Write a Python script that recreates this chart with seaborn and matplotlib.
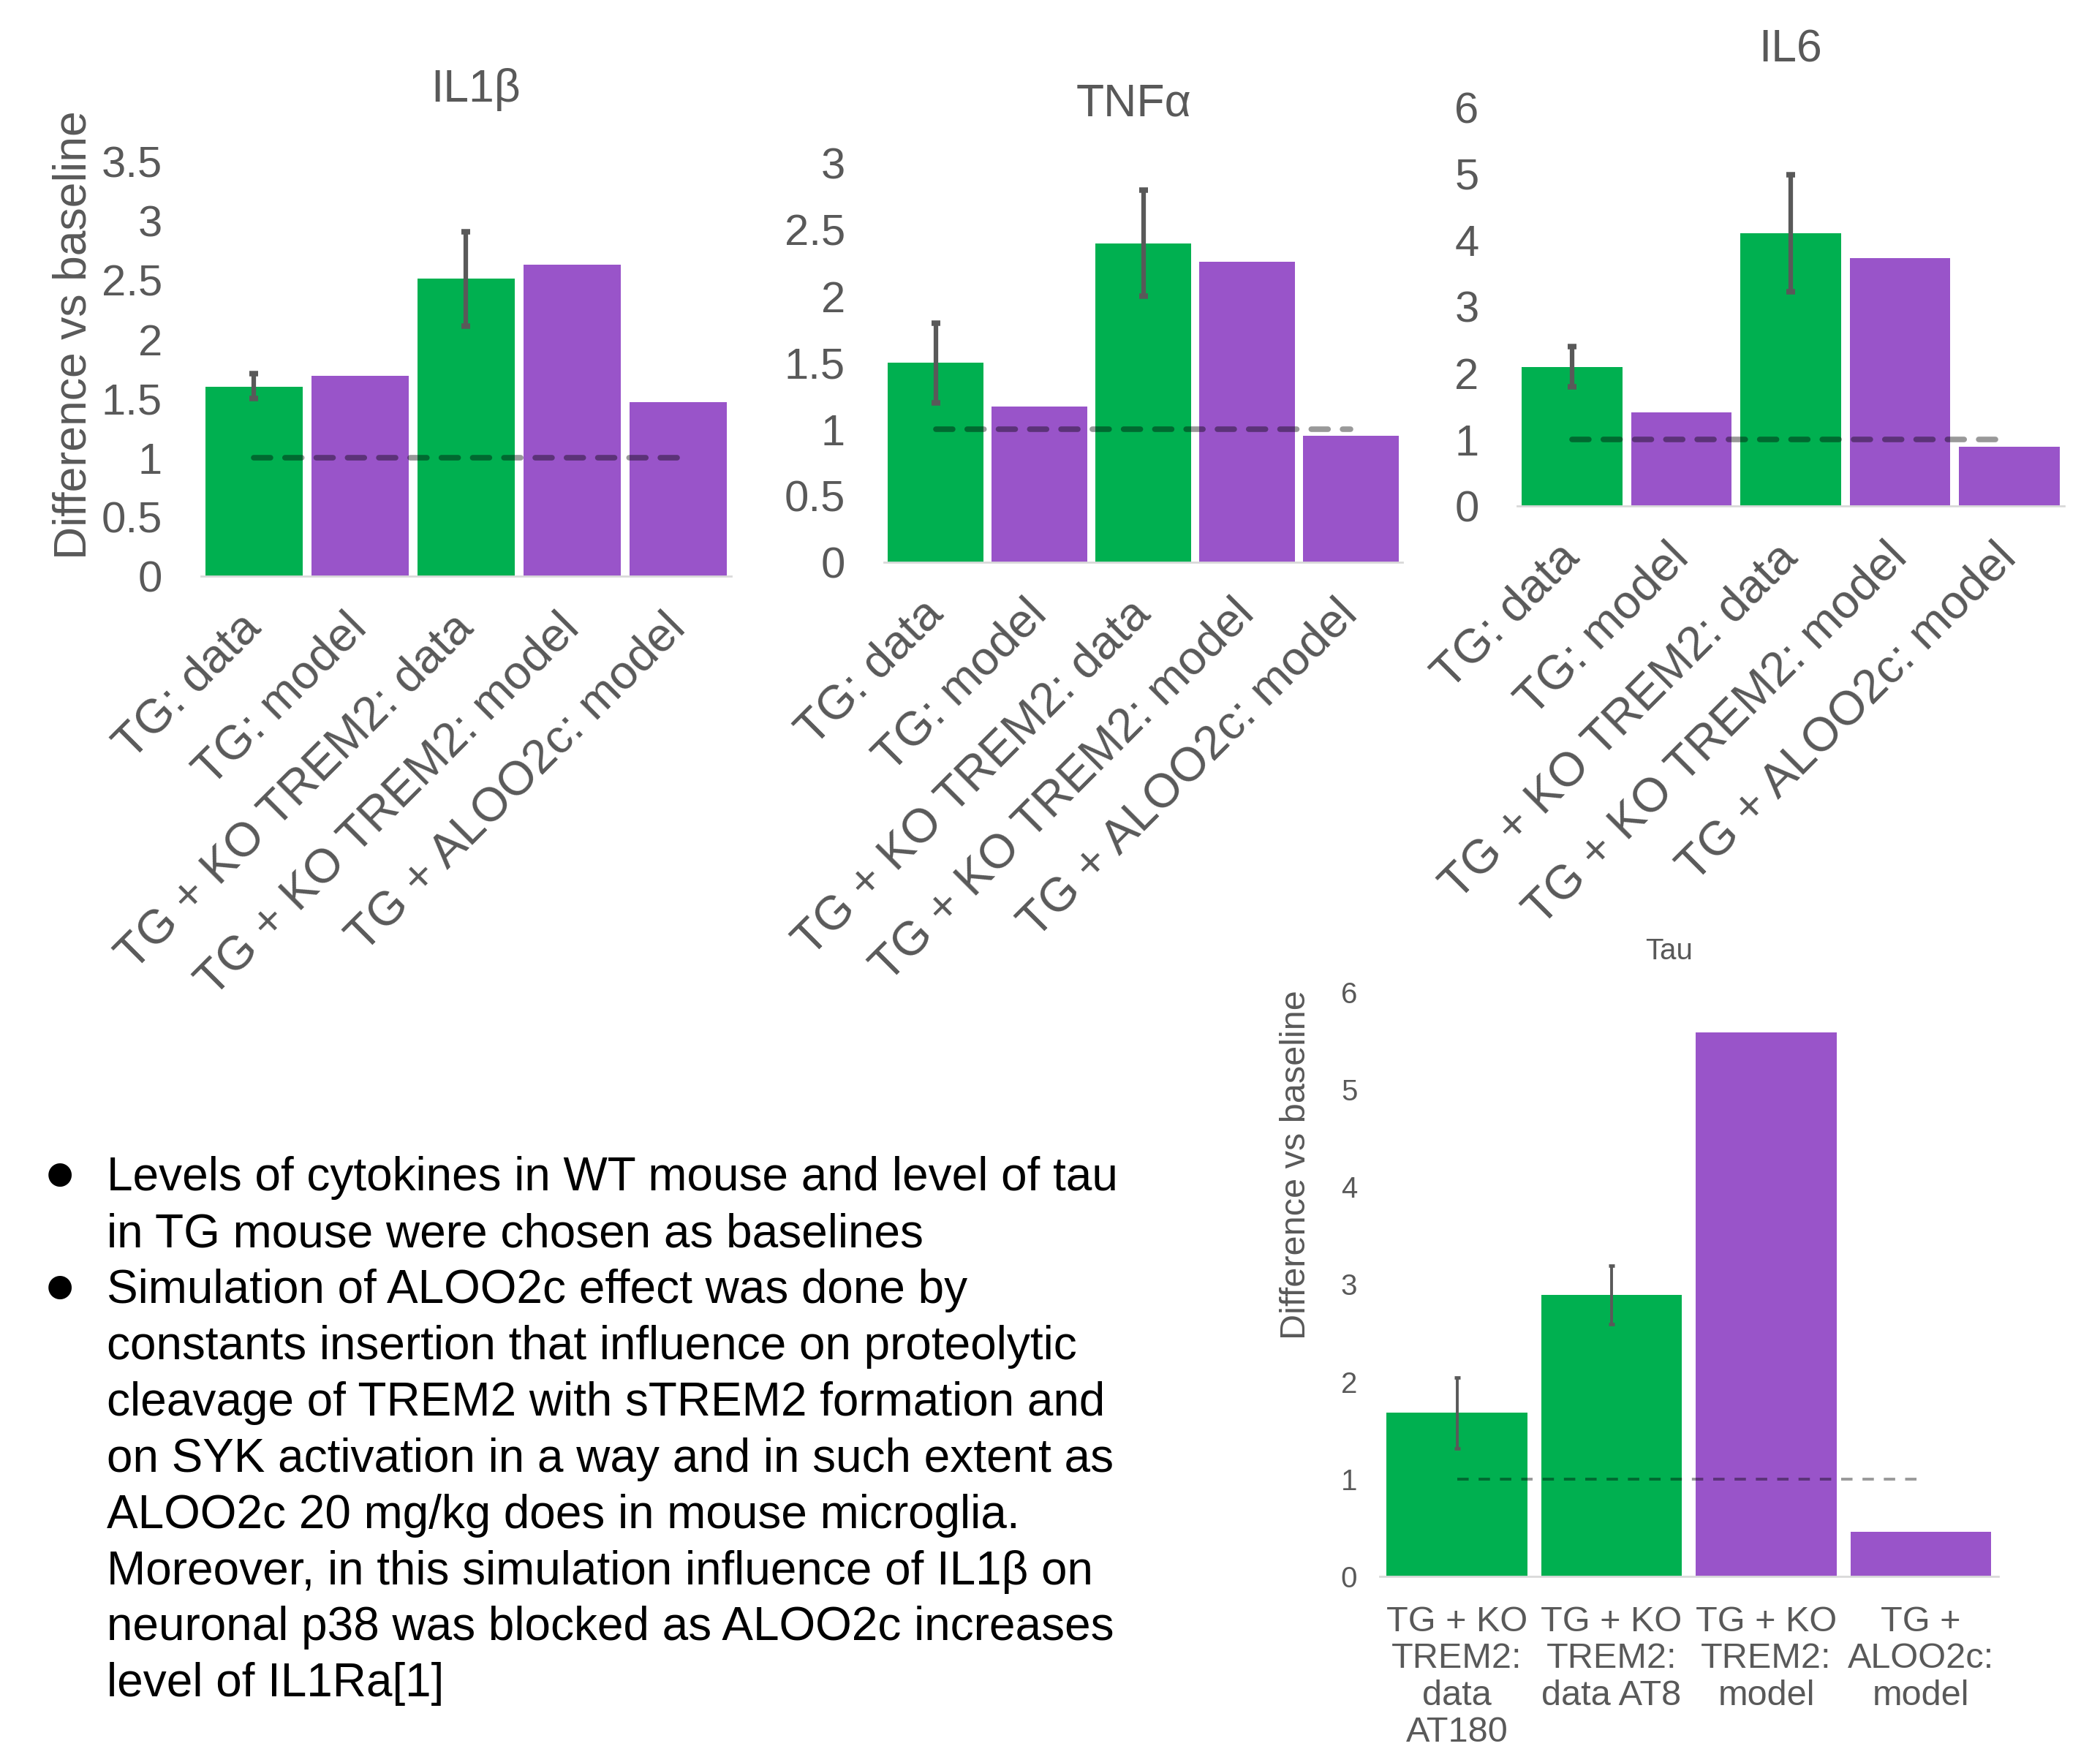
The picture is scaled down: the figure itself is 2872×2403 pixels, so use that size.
import numpy as np
import pandas as pd
import matplotlib
matplotlib.use("Agg")
import matplotlib.pyplot as plt
import seaborn as sns

# ---- data -------------------------------------------------------------
cytokine_groups = ["TG: data", "TG: model", "TG + KO TREM2: data",
                   "TG + KO TREM2: model", "TG + ALOO2c: model"]
cytokine_kinds = ["data", "model", "data", "model", "model"]

il1b_values = [1.60, 1.69, 2.51, 2.63, 1.47]
il1b_err_low = [1.50, None, 2.11, None, None]
il1b_err_high = [1.71, None, 2.91, None, None]

tnfa_values = [1.50, 1.17, 2.40, 2.26, 0.95]
tnfa_err_low = [1.20, None, 2.00, None, None]
tnfa_err_high = [1.80, None, 2.80, None, None]

il6_values = [2.09, 1.41, 4.10, 3.73, 0.89]
il6_err_low = [1.79, None, 3.22, None, None]
il6_err_high = [2.40, None, 4.98, None, None]

tau_groups = ["TG + KO\nTREM2:\ndata\nAT180", "TG + KO\nTREM2:\ndata AT8",
              "TG + KO\nTREM2:\nmodel", "TG +\nALOO2c:\nmodel"]
tau_kinds = ["data", "data", "model", "model"]
tau_values = [1.68, 2.89, 5.59, 0.46]
tau_err_low = [1.31, 2.59, None, None]
tau_err_high = [2.04, 3.19, None, None]

baseline = 1.0

notes = [
    ["Levels of cytokines in WT mouse and level of tau",
     "in TG mouse were chosen as baselines"],
    ["Simulation of ALOO2c effect was done by",
     "constants insertion that influence on proteolytic",
     "cleavage of TREM2 with sTREM2 formation and",
     "on SYK activation in a way and in such extent as",
     "ALOO2c 20 mg/kg does in mouse microglia.",
     "Moreover, in this simulation influence of IL1\u03b2 on",
     "neuronal p38 was blocked as ALOO2c increases",
     "level of IL1Ra[1]"],
]

# ---- style ------------------------------------------------------------
GREEN = "#00B050"
PURPLE = "#9954C9"
TEXT_GREY = "#595959"
AXIS_GREY = "#D9D9D9"
palette = {"data": GREEN, "model": PURPLE}

sns.set_style("white")
plt.rcParams["font.family"] = ["Liberation Sans", "DejaVu Sans"]

fig = plt.figure(figsize=(28.72, 24.03), dpi=100)


def bar_panel(rect, groups, kinds, values, err_low, err_high, ymax, ystep,
              tick_size, err_lw, cap, line_lw, dashes, capstyle, width):
    ax = fig.add_axes(rect)
    df = pd.DataFrame({"group": groups, "kind": kinds, "value": values})
    sns.barplot(data=df, x="group", y="value", hue="kind", order=groups,
                palette=palette, dodge=False, legend=False, saturation=1,
                width=width, linewidth=0, ax=ax)
    n = len(groups)
    pos = np.arange(n)
    mask = np.array([lo is not None for lo in err_low])
    vals = np.asarray(values, dtype=float)[mask]
    lo = np.array([v for v in err_low if v is not None], dtype=float)
    hi = np.array([v for v in err_high if v is not None], dtype=float)
    ax.errorbar(pos[mask], vals, yerr=[vals - lo, hi - vals], fmt="none",
                ecolor=TEXT_GREY, elinewidth=err_lw, capsize=cap,
                capthick=err_lw * 1.2, zorder=4)
    ax.plot([pos[0], pos[-1]], [baseline, baseline], color="black", alpha=0.4,
            lw=line_lw, dashes=dashes, dash_capstyle=capstyle, zorder=5)
    ax.set_xlim(-0.5, n - 0.5)
    ax.set_ylim(0, ymax)
    ticks = np.arange(0, ymax + ystep / 2, ystep)
    ax.set_yticks(ticks)
    ax.set_yticklabels([f"{t:g}" for t in ticks])
    ax.set_xlabel("")
    ax.set_ylabel("")
    for side in ("top", "right", "left"):
        ax.spines[side].set_visible(False)
    ax.spines["bottom"].set_color(AXIS_GREY)
    ax.spines["bottom"].set_linewidth(2)
    ax.tick_params(axis="both", length=0, colors=TEXT_GREY,
                   labelsize=tick_size)
    return ax


# cytokine panels
top_specs = [
    ("IL1\u03b2", [0.0957, 0.672, 0.2525, 0.236], il1b_values, il1b_err_low,
     il1b_err_high, 3.5, 0.5, (0.2264, 0.9490)),
    ("TNF\u03b1", [0.4209, 0.680, 0.2470, 0.227], tnfa_values, tnfa_err_low,
     tnfa_err_high, 3.0, 0.5, (0.540, 0.941)),
    ("IL6", [0.7226, 0.712, 0.2602, 0.227], il6_values, il6_err_low,
     il6_err_high, 6.0, 1.0, (0.8527, 0.9718)),
]
for title, rect, vals, lo, hi, ymax, ystep, tpos in top_specs:
    ax = bar_panel(rect, cytokine_groups, cytokine_kinds, vals, lo, hi,
                   ymax, ystep, 43, 4.5, 4, 5.5, (3, 2.6), "round", 0.92)
    ax.tick_params(axis="y", pad=38)
    ax.tick_params(axis="x", pad=44, labelsize=47)
    plt.setp(ax.get_xticklabels(), rotation=45, ha="right", va="center",
             rotation_mode="anchor")
    fig.text(tpos[0], tpos[1], title, ha="center", va="center",
             fontsize=45, color=TEXT_GREY)

fig.text(0.0351, 0.8095, "Difference vs baseline", rotation=90,
         ha="center", va="center", fontsize=45, color=TEXT_GREY)

# tau panel
ax_tau = bar_panel([0.657, 0.1029, 0.2945, 0.3323], tau_groups, tau_kinds,
                   tau_values, tau_err_low, tau_err_high, 6.0, 1.0,
                   29, 2.8, 3, 2.8, (4, 3.5), "butt", 0.91)
ax_tau.tick_params(axis="y", pad=22)
ax_tau.tick_params(axis="x", pad=29, labelsize=35)
plt.setp(ax_tau.get_xticklabels(), ha="center", va="top", linespacing=1.15)
fig.text(0.7946, 0.4588, "Tau", ha="center", va="center", fontsize=29,
         color=TEXT_GREY)
fig.text(0.6173, 0.337, "Difference vs baseline", rotation=90,
         ha="center", va="center", fontsize=35, color=TEXT_GREY)

# bullet notes, one text per line on a fixed baseline grid
first_baseline = 0.3224
line_step = 0.0320
row = 0
for para in notes:
    fig.text(0.0287, first_baseline - row * line_step + 0.0092, "\u25cf",
             ha="center", va="center", fontsize=30, color="black",
             family=["DejaVu Sans"])
    for line in para:
        fig.text(0.051, first_baseline - row * line_step, line, ha="left",
                 va="baseline", fontsize=46, color="black")
        row += 1

fig.savefig("out.png", dpi=100)
